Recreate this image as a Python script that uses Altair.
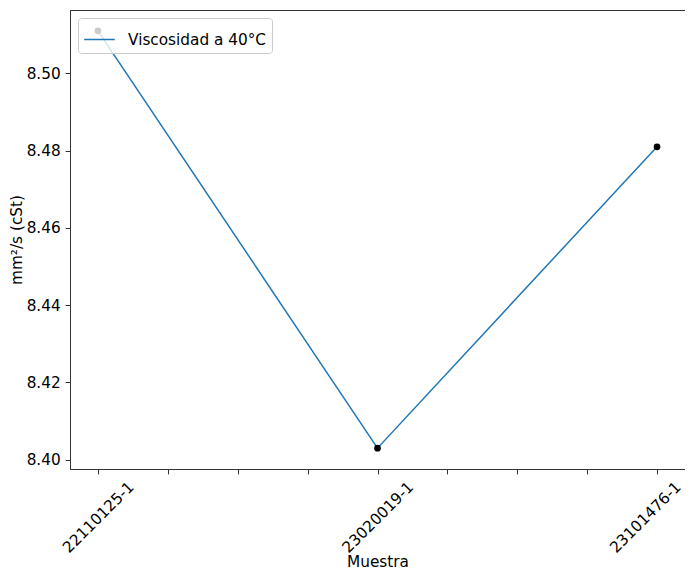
import altair as alt
import pandas as pd

muestras = ["22110125-1", "23020019-1", "23101476-1"]
viscosidad = [8.511, 8.403, 8.481]
serie = "Viscosidad a 40°C"
y_ticks = [8.40, 8.42, 8.44, 8.46, 8.48, 8.50]

df = pd.DataFrame({"idx": list(range(len(muestras))), "muestra": muestras,
                   "valor": viscosidad, "serie": [serie] * len(muestras)})

label_expr = ("datum.value == 0 ? '%s' : datum.value == 1 ? '%s' : datum.value == 2 ? '%s' : ''"
              % tuple(muestras))

FS = 15.3

x = alt.X("idx:Q", scale=alt.Scale(domain=[-0.1, 2.1], nice=False, zero=False),
          axis=alt.Axis(values=[0, 0.25, 0.5, 0.75, 1, 1.25, 1.5, 1.75, 2], labelExpr=label_expr,
                        labelAngle=-45, labelAlign="center", labelBaseline="middle",
                        labelOffset={"expr": "datum.value == 2 ? -12 : 0"},
                        title="Muestra", grid=False, tickSize=4.9, labelPadding=43,
                        titlePadding=-1))
y = alt.Y("valor:Q", scale=alt.Scale(domain=[8.3976, 8.5164], nice=False, zero=False),
          axis=alt.Axis(values=y_ticks, format=".2f", title="mm²/s (cSt)", grid=False,
                        tickSize=4.9, labelPadding=4.9, titlePadding=2))

line = alt.Chart(df).mark_line(strokeWidth=1.5).encode(
    x=x, y=y,
    color=alt.Color("serie:N", scale=alt.Scale(range=["#1f77b4"]),
                    legend=alt.Legend(title=None, orient="top-left", offset=8,
                                      symbolType="stroke", symbolSize=936,
                                      symbolStrokeWidth=1.5, labelOffset=12,
                                      fillColor="rgba(255,255,255,0.8)",
                                      strokeColor="#cccccc", cornerRadius=3,
                                      padding=5, labelFontSize=FS,
                                      labelFont="DejaVu Sans", labelColor="black"))
)
points = alt.Chart(df).mark_point(filled=True, color="black", size=45, opacity=1).encode(x=x, y=y)

chart = (line + points).properties(
    width=615, height=459,
    padding={"left": 62, "top": 2, "right": 0, "bottom": 101},
    autosize=alt.AutoSizeParams(type="none"),
).configure_view(stroke="#333333", strokeWidth=1).configure_axis(
    labelFont="DejaVu Sans", titleFont="DejaVu Sans", labelFontSize=FS, titleFontSize=FS,
    titleFontWeight="normal", labelColor="black", titleColor="black",
    domainColor="#333333", tickColor="#333333"
)

chart.save("out.html", embed_options={"renderer": "svg", "actions": False})
